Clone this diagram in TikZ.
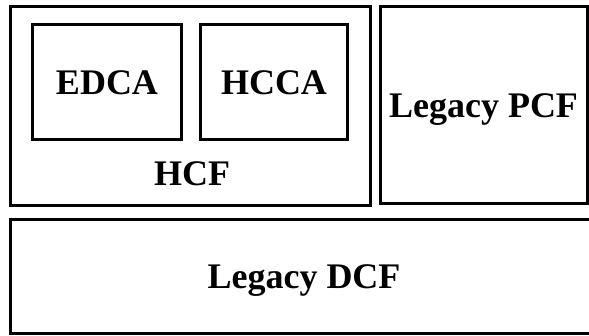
\documentclass[tikz,border=0pt]{standalone}
\usepackage{fontspec}
\setmainfont{Liberation Serif}
\begin{document}
\begin{tikzpicture}[x=1pt,y=1pt,
  box/.style={draw=black,line width=3pt,inner sep=0pt,fill=none,
    font=\fontsize{36}{40}\selectfont\bfseries,text height=24pt,text depth=0pt},
  lbl/.style={inner sep=0pt,font=\fontsize{36}{40}\selectfont\bfseries,anchor=base}]
\useasboundingbox (0,0) rectangle (589,335);
\clip (0,0) rectangle (589,335);
\node[box,minimum width=360pt,minimum height=199pt] (hcf) at (190.5,229.25) {};
\node[box,minimum width=148.5pt,minimum height=115pt] (edca) at (107,252.5) {EDCA};
\node[box,minimum width=147.5pt,minimum height=115pt] (hcca) at (274,252.5) {HCCA};
\node[lbl] (hcflbl) at (192,149) {HCF};
\node[box,minimum width=207pt,minimum height=197.5pt] (pcf) at (483.5,229.75) {Legacy PCF};
\node[box,minimum width=588pt,minimum height=113pt] (dcf) at (304,58.5) {Legacy DCF};
\end{tikzpicture}
\end{document}
